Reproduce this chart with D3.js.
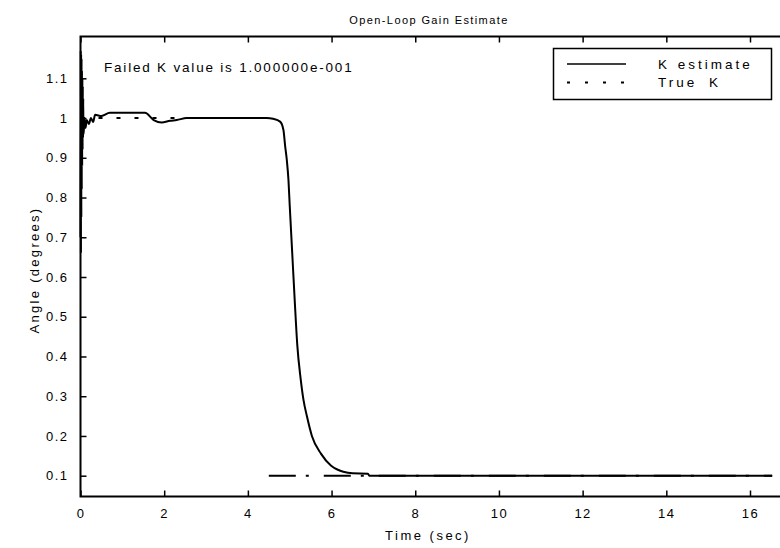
<!DOCTYPE html>
<html>
<head>
<meta charset="utf-8">
<script src="https://cdn.jsdelivr.net/npm/d3@7"></script>
<style>
  body { margin: 0; background: #fff; }
  svg text { font-family: "Liberation Sans", Arial, sans-serif; fill: #000; }
</style>
</head>
<body>
<div></div>
<script>
// open-loop gain estimate: K estimate vs true K over time

const WIDTH = 780;
const HEIGHT = 548;

const timeK = [0, 0.005, 0.01, 0.015, 0.02, 0.025, 0.03, 0.035, 0.04, 0.045, 0.05, 0.055, 0.06,
  0.065, 0.07, 0.08, 0.1, 0.12, 0.15, 0.2, 0.25, 0.3, 0.35, 0.5, 0.7, 1.0, 1.54, 1.75, 1.94,
  2.14, 2.3, 2.54, 3.0, 4.0, 4.45, 4.6, 4.77, 4.85, 4.89, 4.93, 4.97, 5.0, 5.06, 5.12, 5.18,
  5.26, 5.33, 5.41, 5.53, 5.75, 5.99, 6.15, 6.28, 6.5, 6.87, 6.9, 8, 12, 16.53];
const kEstimate = [0.7, 1.17, 0.66, 1.16, 0.75, 1.15, 0.82, 1.12, 0.88, 1.1, 0.92, 1.08, 0.95,
  1.05, 0.96, 0.97, 1.0, 0.975, 0.995, 0.985, 1.0, 0.99, 1.008, 1.005, 1.013, 1.013, 1.013, 0.995,
  0.989, 0.993, 0.995, 1.0, 1.0, 1.0, 1.0, 0.998, 0.991, 0.97, 0.93, 0.895, 0.844, 0.78, 0.66,
  0.54, 0.43, 0.345, 0.29, 0.25, 0.2, 0.155, 0.125, 0.115, 0.11, 0.106, 0.105, 0.1, 0.1, 0.1, 0.1];

// null marks the break where the true gain switches
const timeTrue = [0, 4.5, null, 4.5, 16.53];
const trueK = [1, 1, null, 0.1, 0.1];

const xTicks = [0, 2, 4, 6, 8, 10, 12, 14, 16];
const yTicks = [0.1, 0.2, 0.3, 0.4, 0.5, 0.6, 0.7, 0.8, 0.9, 1, 1.1];

const LEFT = 80.5, RIGHT = 780, TOP = 36.5, BOTTOM = 496.5;

const x = d3.scaleLinear().domain([0, 16]).range([LEFT, 750]);
const y = d3.scaleLinear().domain([0.1, 1.1]).range([475.7, 78.3]);

const svg = d3.select('div').append('svg')
  .attr('width', WIDTH)
  .attr('height', HEIGHT);

svg.append('rect')
  .attr('x', LEFT).attr('y', TOP)
  .attr('width', RIGHT - LEFT + 5).attr('height', BOTTOM - TOP)
  .attr('fill', 'none')
  .attr('stroke', '#000')
  .attr('stroke-width', 2);

// ticks drawn inside the box
svg.append('g')
  .attr('transform', `translate(0,${BOTTOM})`)
  .call(d3.axisBottom(x).tickValues(xTicks).tickSizeInner(-6).tickSizeOuter(0).tickPadding(12))
  .call(g => g.select('.domain').remove())
  .call(g => g.selectAll('line').attr('stroke-width', 1.5))
  .call(g => g.selectAll('text').attr('font-size', 13).attr('letter-spacing', 1.5));

svg.append('g')
  .attr('transform', `translate(0,${TOP})`)
  .call(d3.axisTop(x).tickValues(xTicks).tickSizeInner(-6).tickSizeOuter(0).tickFormat(''))
  .call(g => g.select('.domain').remove())
  .call(g => g.selectAll('line').attr('stroke-width', 1.5));

svg.append('g')
  .attr('transform', `translate(${LEFT},0)`)
  .call(d3.axisLeft(y).tickValues(yTicks).tickSizeInner(-6).tickSizeOuter(0).tickPadding(12)
    .tickFormat(d3.format('')))
  .call(g => g.select('.domain').remove())
  .call(g => g.selectAll('line').attr('stroke-width', 1.5))
  .call(g => g.selectAll('text').attr('font-size', 13).attr('letter-spacing', 1.5));

const line = d3.line()
  .curve(d3.curveMonotoneX)
  .x(d => x(d[0]))
  .y(d => y(d[1]));

// true K: split into its two levels, each drawn dashed
const truePts = timeTrue.map((t, i) => [t, trueK[i]]);
const breakAt = timeTrue.indexOf(null);
const trueSegs = [truePts.slice(0, breakAt), truePts.slice(breakAt + 1)];
const dashes = ['4,14', '27,10,3,15'];

svg.selectAll('path.truek')
  .data(trueSegs)
  .enter()
  .append('path')
  .attr('class', 'truek')
  .attr('d', line)
  .attr('fill', 'none')
  .attr('stroke', '#000')
  .attr('stroke-width', 2)
  .attr('stroke-dasharray', (d, i) => dashes[i]);

svg.append('path')
  .datum(timeK.map((t, i) => [t, kEstimate[i]]))
  .attr('d', line)
  .attr('fill', 'none')
  .attr('stroke', '#000')
  .attr('stroke-width', 2)
  .attr('stroke-linejoin', 'round');

svg.append('text')
  .attr('x', 429).attr('y', 24)
  .attr('text-anchor', 'middle')
  .attr('font-size', 11)
  .attr('letter-spacing', 1.4)
  .text('Open-Loop Gain Estimate');

svg.append('text')
  .attr('x', 428).attr('y', 540)
  .attr('text-anchor', 'middle')
  .attr('font-size', 13)
  .attr('letter-spacing', 2.5)
  .text('Time (sec)');

svg.append('text')
  .attr('transform', 'translate(39,270) rotate(-90)')
  .attr('text-anchor', 'middle')
  .attr('font-size', 13)
  .attr('letter-spacing', 2.3)
  .text('Angle (degrees)');

svg.append('text')
  .attr('x', 104).attr('y', 72)
  .attr('font-size', 13.5)
  .attr('letter-spacing', 1.8)
  .text('Failed K value is 1.000000e-001');

// legend
const legend = svg.append('g');
legend.append('rect')
  .attr('x', 553.5).attr('y', 48.5)
  .attr('width', 218).attr('height', 51)
  .attr('fill', '#fff')
  .attr('stroke', '#000')
  .attr('stroke-width', 1.5);
legend.append('line')
  .attr('x1', 567).attr('x2', 626).attr('y1', 64).attr('y2', 64)
  .attr('stroke', '#000').attr('stroke-width', 1.5);
legend.append('line')
  .attr('x1', 567).attr('x2', 626).attr('y1', 82.5).attr('y2', 82.5)
  .attr('stroke', '#000').attr('stroke-width', 2)
  .attr('stroke-dasharray', '3,15');
legend.append('text')
  .attr('x', 658).attr('y', 68.5)
  .attr('font-size', 13.5).attr('letter-spacing', 3).attr('word-spacing', 1)
  .text('K estimate');
legend.append('text')
  .attr('x', 658).attr('y', 87)
  .attr('font-size', 13.5).attr('letter-spacing', 3).attr('word-spacing', 5)
  .text('True K');
</script>
</body>
</html>
